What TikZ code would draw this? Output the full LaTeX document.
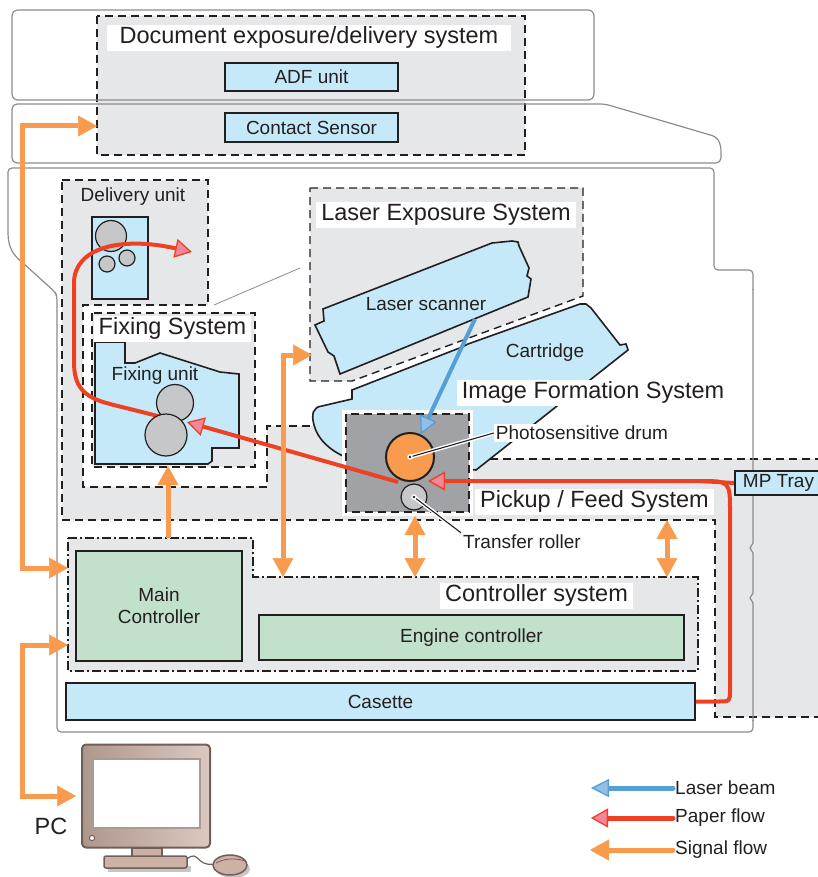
\documentclass[tikz,border=0pt]{standalone}
\usepackage{fontspec}
\setmainfont{Liberation Sans}
\usetikzlibrary{arrows.meta}

\definecolor{ink}{HTML}{231F20}
\definecolor{areagrey}{HTML}{E6E7E8}
\definecolor{partblue}{HTML}{C6E9F9}
\definecolor{ctrlgreen}{HTML}{C1E1CA}
\definecolor{rollgrey}{HTML}{C6C7C9}
\definecolor{drumbox}{HTML}{A1A2A5}
\definecolor{drumorange}{HTML}{F89B4F}
\definecolor{signal}{HTML}{F89B4F}
\definecolor{paper}{HTML}{EE4124}
\definecolor{paperhead}{HTML}{F2879A}
\definecolor{laser}{HTML}{569FD6}
\definecolor{laserhead}{HTML}{94BFE5}
\definecolor{shellgrey}{HTML}{8C8C8C}
\definecolor{pcbody}{HTML}{CDB1A4}
\definecolor{pcedge}{HTML}{6E5F5A}
\definecolor{pcscreen}{HTML}{A89A94}

\tikzset{
	big/.style={font=\fontsize{23.5}{27}\selectfont},
	small/.style={font=\fontsize{19}{22}\selectfont},
	title/.style={big, fill=white, inner xsep=5pt, inner ysep=2pt, text height=17pt, text depth=5pt},
	area/.style={draw=ink, fill=areagrey, line width=1.4pt, dash pattern=on 8pt off 5pt},
	ctrlarea/.style={draw=ink, fill=areagrey, line width=1.4pt, dash pattern=on 9pt off 3pt on 2pt off 3pt},
	part/.style={draw=ink, fill=partblue, line width=1.6pt, small},
	board/.style={draw=ink, fill=ctrlgreen, line width=1.6pt, small},
	roll/.style={circle, draw=ink, fill=rollgrey, line width=1.2pt, inner sep=0pt},
	shell/.style={draw=shellgrey, line width=1.2pt},
	sig/.style={draw=signal, line width=5pt, >={Triangle[length=19pt,width=21pt,line width=0.5pt]}},
	paperflow/.style={draw=paper, line width=4pt, >={Triangle[length=17pt,width=19pt,fill=paperhead,line width=1.3pt]}},
	beam/.style={draw=laser, line width=4pt, >={Triangle[length=18pt,width=18pt,fill=laserhead,line width=1.3pt]}},
	leader/.style={draw=ink, line width=1.1pt, preaction={draw=white, line width=4pt}},
}

\begin{document}
\begin{tikzpicture}[x=1pt, y=-1pt, color=ink]

	\useasboundingbox (0, 0) rectangle (818, 877);

	\draw [area] (97, 16) rectangle (525, 155);
	\draw [area] (62, 180) -- (208, 180) -- (208, 305) -- (83, 305) -- (83, 487) -- (267, 487) -- (267, 426) -- (400, 426) -- (400, 459) -- (826, 459) -- (826, 717) -- (715, 717) -- (715, 520) -- (62, 520) -- cycle;
	\draw [area] (310, 188) -- (583, 188) -- (583, 296) -- (352, 381) -- (310, 381) -- cycle;

	\draw [shell, rounded corners=6pt] (12, 10) rectangle (594, 100);
	\draw [shell, rounded corners=5pt] (12, 163) -- (12, 104) -- (605, 104) -- (717, 137) -- (721, 146) -- (721, 163) -- cycle;
	\draw [shell, rounded corners=4pt] (8, 233) -- (8, 168) -- (714, 168) -- (714, 270) -- (753, 270) -- (753, 290);
	\draw [shell] (753, 289) -- (753, 543) -- (750, 548) -- (753, 553) -- (753, 593) -- (750, 598) -- (753, 603) -- (753, 721);
	\draw [shell, rounded corners=4pt] (753, 720) -- (753, 732) -- (57, 732) -- (57, 296) -- (55, 292) -- (23, 263);
	\draw [shell] (23, 263) .. controls (14, 256) and (8, 248) .. (8, 233);
	\draw [shell, line width=0.8pt] (214, 305) -- (300, 268);

	\node [small] (DU) at (133, 197) {Delivery unit};
	\draw [part] (92, 217) rectangle (148, 299);
	\node [roll, minimum size=31pt] (DR0) at (111, 236) {};
	\node [roll, minimum size=16pt] (DR1) at (107, 264) {};
	\node [roll, minimum size=16pt] (DR2) at (127, 258) {};

	\draw [area] (92, 313) rectangle (255, 467);
	\draw [part] (95, 342) -- (125, 342) -- (125, 363) -- (135, 363) -- (160, 353) -- (220, 372) -- (239, 374) -- (239, 448) -- (212, 448) -- (212, 461) -- (208, 464) -- (95, 464) -- cycle;
	\node [small] (FU) at (155, 376) {Fixing unit};

	\draw [part] (323, 309) -- (492, 243) -- (512, 241) -- (518, 242) -- (519, 246) -- (529, 268) -- (527, 276) -- (531, 279) -- (528, 297) -- (340, 374) -- (334, 356) -- (328, 352) -- (315, 325) -- (324, 321) -- cycle;
	\node [small] (LS) at (426, 304) {Laser scanner};

	\draw [part] (352, 390) -- (462, 347) -- (468, 344) -- (580, 304) -- (586, 304) -- (591, 308) -- (620, 345) -- (626, 344) -- (628, 350) -- (476, 470) -- (345, 457) .. controls (330, 450) and (318, 440) .. (314, 425) .. controls (311, 414) and (313, 407) .. (322, 406) -- (352, 399) -- cycle;
	\node [small] (CT) at (545, 353) {Cartridge};

	\fill [white] (342, 410) rectangle (473, 516);
	\draw [area, fill=drumbox] (346, 414) rectangle (469, 512);

	\draw [ctrlarea] (68, 538) -- (253, 538) -- (253, 577) -- (698, 577) -- (698, 671) -- (68, 671) -- cycle;
	\node [board, minimum width=166pt, minimum height=110pt, align=center] (MC) at (159, 606) {Main\\Controller};
	\node [board, minimum width=425pt, minimum height=45pt] (EC) at (471.5, 637.5) {Engine controller};
	\node [part, minimum width=629pt, minimum height=37pt] (CAS) at (380.5, 701.5) {Casette};
	\node [part, minimum width=87pt, minimum height=24pt, inner xsep=3pt, line width=2pt] (MP) at (778.5, 483) {MP Tray};

	\coordinate (NIP) at (398, 482);
	\coordinate (DRUMIN) at (428, 481);
	\coordinate (FIXIN) at (187, 422);
	\coordinate (FIXNIP) at (170, 419);
	\coordinate (DELOUT) at (192, 252);
	\draw [paperflow, ->] (CAS.east) -- (718, 701.5) .. controls (730, 701.5) .. (730, 690) -- (730, 512) .. controls (730, 481) .. (699, 481) -- (DRUMIN);
	\draw [paperflow] (MP.west) -- (699, 481);
	\draw [paperflow, ->] (NIP) -- (FIXIN);
	\draw [paperflow, ->] (FIXNIP) -- (110, 404) .. controls (82, 397) and (74, 385) .. (74, 362) -- (74, 283) .. controls (74, 248) and (120, 236) .. (DELOUT);

	\node [roll, minimum size=37pt] (FR0) at (175, 403) {};
	\node [roll, minimum size=42pt] (FR1) at (166, 435) {};

	\node [circle, draw=ink, fill=drumorange, line width=2pt, minimum size=48pt, inner sep=0pt] (DRUM) at (410, 457) {};
	\node [roll, minimum size=26pt] (TR) at (414, 497) {};

	\coordinate (LSOUT) at (475, 319);
	\draw [beam, ->] (LSOUT) -- (DRUM);

	\node [small, fill=white, inner sep=2pt] (PD) at (582, 433) {Photosensitive drum};
	\node [small, inner sep=2pt] (TRL) at (522, 542) {Transfer roller};
	\draw [leader] (DRUM.center) -- (PD.west);
	\draw [leader] (TR.center) -- (TRL.north west);
	\fill [white] (DRUM.center) circle (2.8);
	\fill [ink] (DRUM.center) circle (1.4);
	\fill [white] (TR.center) circle (2.8);
	\fill [ink] (TR.center) circle (1.4);

	\node [title, minimum width=404pt] (DOC) at (309, 38) {Document exposure/delivery system};
	\node [part, minimum width=173pt, minimum height=28pt] (ADF) at (311.5, 77) {ADF unit};
	\node [part, minimum width=173pt, minimum height=29pt] (CS) at (311.5, 127.5) {Contact Sensor};
	\node [title] (LES) at (446, 215) {Laser Exposure System};
	\node [title] (FS) at (172.5, 328.5) {Fixing System};
	\node [title] (IFS) at (593, 392.5) {Image Formation System};
	\node [title] (PFS) at (594.5, 501.5) {Pickup / Feed System};
	\node [title] (CSYS) at (536.5, 595.5) {Controller system};

	\node [draw=pcedge, left color=pcbody!85!black, right color=pcbody!70!white, line width=2pt, rounded corners=4pt, minimum width=128pt, minimum height=103pt] (PC) at (146, 796) {};
	\node [draw=pcscreen, fill=white, line width=1.5pt, minimum width=107pt, minimum height=69pt] (SCR) at (146.5, 793.5) {};
	\draw [pcedge, fill=white, line width=1pt] (92, 838) circle (2.6);
	\fill [gray!45] (108, 866) rectangle (191, 872);
	\draw [pcedge, fill=pcbody, line width=1.5pt] (132, 848) rectangle (162, 857);
	\draw [pcedge, fill=pcbody, line width=1.5pt, rounded corners=2pt] (104, 856) rectangle (187, 868);
	\draw [pcedge, line width=1.2pt] (187, 859) .. controls (199, 849) and (196, 867) .. (214, 864);
	\fill [gray!45] (233, 869) ellipse (17 and 9);
	\draw [pcedge, fill=pcbody, line width=1.5pt] (230, 865) ellipse (17 and 10);
	\draw [pcedge, line width=0.8pt] (216, 863) .. controls (225, 858) and (236, 858) .. (245, 861);
	\node [big] (PCL) at (51, 826) {PC};

	\coordinate (DOCIN) at (97, 126);
	\coordinate (CTLIN) at (68, 568);
	\coordinate (CTLPC) at (68, 645);
	\coordinate (PCIN) at (76, 796);
	\coordinate (CTLFIX) at (168, 538);
	\coordinate (FIXBOT) at (168, 466);
	\coordinate (LESIN) at (312, 355);
	\coordinate (CTLLES) at (283, 577);
	\coordinate (IFBOT) at (415, 516);
	\coordinate (CTLIF) at (415, 577);
	\coordinate (PFBOT) at (667, 520);
	\coordinate (CTLPF) at (667, 577);

	\draw [sig, <->] (DOCIN) -| (22, 568) -- (CTLIN);
	\draw [sig, <->] (CTLPC) -| (22, 796) -- (PCIN);
	\draw [sig, ->] (CTLFIX) -- (FIXBOT);
	\draw [sig, <->] (LESIN) -| (CTLLES);
	\draw [sig, <->] (IFBOT) -- (CTLIF);
	\draw [sig, <->] (PFBOT) -- (CTLPF);

	\node [small, anchor=west, inner sep=2pt] (LG0) at (673, 788) {Laser beam};
	\node [small, anchor=west, inner sep=2pt] (LG1) at (673, 818) {Paper flow};
	\node [small, anchor=west, inner sep=2pt] (LG2) at (673, 850) {Signal flow};
	\coordinate (LT0) at (591, 788);
	\coordinate (LT1) at (591, 818);
	\coordinate (LT2) at (590, 850);
	\draw [beam, ->, line cap=round, line width=5pt] (LG0.west) -- (LT0);
	\draw [paperflow, ->, line cap=round, line width=5pt] (LG1.west) -- (LT1);
	\draw [sig, ->, line cap=round] (LG2.west) -- (LT2);

\end{tikzpicture}
\end{document}
